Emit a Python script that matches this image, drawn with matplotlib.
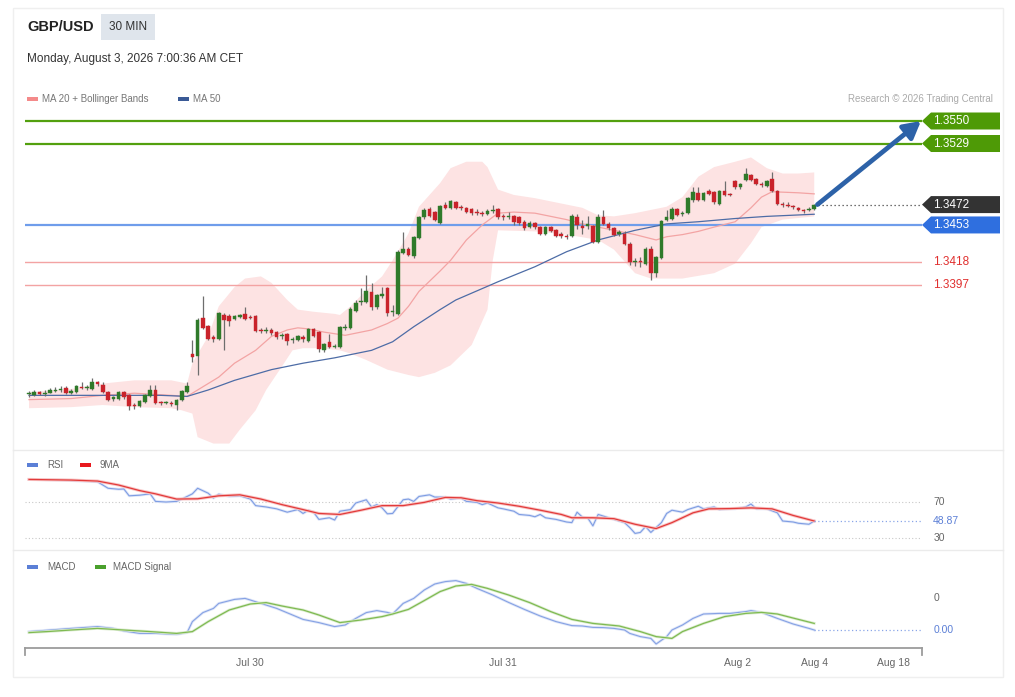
import numpy as np
import matplotlib
matplotlib.use("Agg")
import matplotlib.pyplot as plt
from matplotlib.patches import Rectangle, Polygon
from matplotlib.lines import Line2D
from matplotlib.transforms import IdentityTransform

plt.rcParams['font.family'] = ['Liberation Sans', 'DejaVu Sans']

W, H = 1015, 697

# --- 30分足ローソク (GBP/USD) ---
opens = [1.3295, 1.3294, 1.3297, 1.3295, 1.3296, 1.3298, 1.3299, 1.3301, 1.3296, 1.3297,
         1.3302, 1.3301, 1.3300, 1.3306, 1.3304, 1.3297, 1.3291, 1.3291, 1.3297, 1.3294,
         1.3285, 1.3284, 1.3288, 1.3293, 1.3299, 1.3288, 1.3287, 1.3287, 1.3285, 1.3290,
         1.3297, 1.3333, 1.3331, 1.3366, 1.3359, 1.3348, 1.3347, 1.3369, 1.3368, 1.3365,
         1.3367, 1.3370, 1.3367, 1.3368, 1.3355, 1.3354, 1.3355, 1.3353, 1.3349, 1.3351,
         1.3346, 1.3346, 1.3348, 1.3345, 1.3356, 1.3353, 1.3336, 1.3344, 1.3339, 1.3339,
         1.3357, 1.3357, 1.3373, 1.3381, 1.3381, 1.3390, 1.3376, 1.3387, 1.3394, 1.3372,
         1.3370, 1.3427, 1.3431, 1.3424, 1.3441, 1.3460, 1.3468, 1.3465, 1.3455, 1.3472,
         1.3469, 1.3474, 1.3470, 1.3469, 1.3468, 1.3465, 1.3464, 1.3463, 1.3466, 1.3468,
         1.3461, 1.3460, 1.3461, 1.3460, 1.3456, 1.3451, 1.3455, 1.3451, 1.3445, 1.3451,
         1.3448, 1.3445, 1.3443, 1.3443, 1.3460, 1.3452, 1.3452, 1.3452, 1.3437, 1.3460,
         1.3454, 1.3450, 1.3445, 1.3445, 1.3435, 1.3418, 1.3419, 1.3417, 1.3431, 1.3408,
         1.3422, 1.3458, 1.3459, 1.3468, 1.3463, 1.3464, 1.3476, 1.3483, 1.3476, 1.3485,
         1.3484, 1.3473, 1.3485, 1.3482, 1.3494, 1.3488, 1.3495, 1.3500, 1.3496, 1.3491,
         1.3489, 1.3496, 1.3485, 1.3473, 1.3472, 1.3471, 1.3469, 1.3467, 1.3467, 1.3468]
highs = [1.3298, 1.3299, 1.3298, 1.3299, 1.3301, 1.3302, 1.3303, 1.3303, 1.3300, 1.3304,
         1.3306, 1.3304, 1.3310, 1.3307, 1.3306, 1.3298, 1.3293, 1.3298, 1.3298, 1.3295,
         1.3287, 1.3290, 1.3295, 1.3304, 1.3304, 1.3289, 1.3289, 1.3289, 1.3291, 1.3299,
         1.3306, 1.3346, 1.3366, 1.3387, 1.3360, 1.3350, 1.3372, 1.3371, 1.3370, 1.3369,
         1.3370, 1.3376, 1.3369, 1.3369, 1.3357, 1.3358, 1.3357, 1.3354, 1.3352, 1.3352,
         1.3348, 1.3350, 1.3350, 1.3357, 1.3357, 1.3354, 1.3343, 1.3351, 1.3342, 1.3359,
         1.3361, 1.3376, 1.3383, 1.3394, 1.3406, 1.3399, 1.3389, 1.3395, 1.3395, 1.3378,
         1.3430, 1.3446, 1.3432, 1.3443, 1.3461, 1.3469, 1.3470, 1.3466, 1.3472, 1.3474,
         1.3476, 1.3475, 1.3472, 1.3470, 1.3469, 1.3468, 1.3466, 1.3468, 1.3472, 1.3469,
         1.3463, 1.3465, 1.3462, 1.3461, 1.3458, 1.3457, 1.3456, 1.3452, 1.3452, 1.3452,
         1.3449, 1.3446, 1.3445, 1.3463, 1.3463, 1.3458, 1.3461, 1.3453, 1.3463, 1.3467,
         1.3456, 1.3451, 1.3448, 1.3447, 1.3437, 1.3422, 1.3423, 1.3432, 1.3433, 1.3424,
         1.3458, 1.3467, 1.3470, 1.3469, 1.3466, 1.3479, 1.3488, 1.3488, 1.3484, 1.3487,
         1.3485, 1.3486, 1.3494, 1.3483, 1.3495, 1.3492, 1.3506, 1.3501, 1.3497, 1.3493,
         1.3495, 1.3502, 1.3486, 1.3474, 1.3474, 1.3472, 1.3470, 1.3468, 1.3470, 1.3473]
lows = [1.3292, 1.3293, 1.3294, 1.3293, 1.3296, 1.3297, 1.3297, 1.3295, 1.3295, 1.3296,
        1.3300, 1.3299, 1.3299, 1.3303, 1.3296, 1.3289, 1.3289, 1.3290, 1.3291, 1.3280,
        1.3281, 1.3283, 1.3287, 1.3292, 1.3286, 1.3285, 1.3286, 1.3284, 1.3280, 1.3289,
        1.3296, 1.3325, 1.3313, 1.3356, 1.3346, 1.3344, 1.3346, 1.3336, 1.3359, 1.3364,
        1.3366, 1.3364, 1.3365, 1.3353, 1.3352, 1.3352, 1.3350, 1.3347, 1.3347, 1.3341,
        1.3343, 1.3345, 1.3344, 1.3344, 1.3348, 1.3334, 1.3334, 1.3338, 1.3338, 1.3338,
        1.3355, 1.3356, 1.3372, 1.3378, 1.3380, 1.3374, 1.3375, 1.3385, 1.3368, 1.3368,
        1.3369, 1.3426, 1.3424, 1.3422, 1.3440, 1.3459, 1.3460, 1.3457, 1.3454, 1.3468,
        1.3468, 1.3468, 1.3467, 1.3464, 1.3462, 1.3462, 1.3461, 1.3462, 1.3464, 1.3459,
        1.3458, 1.3459, 1.3453, 1.3453, 1.3448, 1.3450, 1.3449, 1.3444, 1.3444, 1.3446,
        1.3442, 1.3441, 1.3440, 1.3442, 1.3449, 1.3445, 1.3449, 1.3436, 1.3436, 1.3453,
        1.3448, 1.3443, 1.3443, 1.3434, 1.3416, 1.3415, 1.3414, 1.3416, 1.3402, 1.3404,
        1.3421, 1.3457, 1.3458, 1.3461, 1.3461, 1.3463, 1.3474, 1.3475, 1.3475, 1.3481,
        1.3473, 1.3472, 1.3480, 1.3480, 1.3487, 1.3487, 1.3494, 1.3494, 1.3490, 1.3488,
        1.3488, 1.3484, 1.3472, 1.3470, 1.3470, 1.3468, 1.3466, 1.3464, 1.3466, 1.3467]
closes = [1.3296, 1.3297, 1.3295, 1.3296, 1.3299, 1.3299, 1.3300, 1.3296, 1.3298, 1.3303,
          1.3301, 1.3302, 1.3306, 1.3305, 1.3297, 1.3290, 1.3292, 1.3297, 1.3292, 1.3284,
          1.3284, 1.3289, 1.3294, 1.3299, 1.3287, 1.3287, 1.3288, 1.3286, 1.3290, 1.3298,
          1.3303, 1.3330, 1.3364, 1.3357, 1.3347, 1.3347, 1.3371, 1.3364, 1.3363, 1.3368,
          1.3369, 1.3365, 1.3366, 1.3354, 1.3354, 1.3355, 1.3352, 1.3348, 1.3350, 1.3345,
          1.3347, 1.3349, 1.3347, 1.3356, 1.3349, 1.3337, 1.3342, 1.3339, 1.3340, 1.3358,
          1.3358, 1.3375, 1.3380, 1.3382, 1.3391, 1.3376, 1.3388, 1.3389, 1.3371, 1.3373,
          1.3428, 1.3431, 1.3425, 1.3442, 1.3460, 1.3467, 1.3461, 1.3458, 1.3471, 1.3469,
          1.3475, 1.3469, 1.3469, 1.3465, 1.3464, 1.3464, 1.3463, 1.3466, 1.3467, 1.3460,
          1.3460, 1.3461, 1.3456, 1.3455, 1.3450, 1.3455, 1.3451, 1.3445, 1.3451, 1.3447,
          1.3443, 1.3443, 1.3442, 1.3461, 1.3453, 1.3450, 1.3454, 1.3437, 1.3460, 1.3454,
          1.3450, 1.3444, 1.3446, 1.3435, 1.3418, 1.3419, 1.3418, 1.3431, 1.3408, 1.3423,
          1.3457, 1.3460, 1.3468, 1.3462, 1.3464, 1.3478, 1.3484, 1.3476, 1.3483, 1.3482,
          1.3474, 1.3485, 1.3481, 1.3481, 1.3488, 1.3491, 1.3501, 1.3495, 1.3491, 1.3490,
          1.3494, 1.3485, 1.3473, 1.3472, 1.3471, 1.3470, 1.3467, 1.3466, 1.3468, 1.3472]

# ボリンジャーバンド / 移動平均 (足番号, 値)
up_idx = [1, 9, 15, 21, 28, 31, 32, 35, 37, 40, 42, 45, 47, 50, 52, 55, 59, 60, 62, 65,
          68, 70, 73, 75, 79, 81, 84, 87, 88, 90, 93, 97, 100, 103, 106, 109, 112, 116, 119, 122,
          125, 128, 131, 135, 138, 141, 144, 147, 150]
up_val = [1.3297, 1.3300, 1.3305, 1.3308, 1.3308, 1.3305, 1.3324, 1.3349, 1.3377, 1.3395,
          1.3403, 1.3405, 1.3399, 1.3383, 1.3374, 1.3372, 1.3370, 1.3369, 1.3377, 1.3392,
          1.3405, 1.3420, 1.3445, 1.3470, 1.3492, 1.3506, 1.3512, 1.3512, 1.3507, 1.3486,
          1.3481, 1.3478, 1.3475, 1.3472, 1.3469, 1.3462, 1.3461, 1.3464, 1.3467, 1.3470,
          1.3479, 1.3498, 1.3507, 1.3512, 1.3516, 1.3506, 1.3501, 1.3501, 1.3502]
lo_idx = [1, 9, 15, 21, 28, 30, 32, 33, 36, 39, 41, 44, 46, 49, 51, 53, 56, 60, 62, 65,
          69, 73, 75, 78, 81, 85, 88, 89, 90, 97, 103, 109, 112, 116, 119, 125, 131, 135, 138, 140,
          144, 150]
lo_val = [1.3282, 1.3283, 1.3285, 1.3283, 1.3282, 1.3280, 1.3277, 1.3255, 1.3249, 1.3249,
          1.3262, 1.3280, 1.3299, 1.3321, 1.3336, 1.3338, 1.3338, 1.3336, 1.3333, 1.3327,
          1.3318, 1.3313, 1.3311, 1.3315, 1.3322, 1.3341, 1.3374, 1.3420, 1.3448, 1.3447,
          1.3444, 1.3439, 1.3430, 1.3408, 1.3403, 1.3403, 1.3408, 1.3417, 1.3436, 1.3451,
          1.3458, 1.3461]
ma20_idx = [1, 9, 15, 21, 28, 31, 33, 37, 40, 44, 47, 50, 52, 54, 57, 61, 62, 66, 69, 71,
            73, 75, 79, 81, 84, 87, 90, 93, 97, 100, 103, 106, 109, 112, 116, 120, 122, 125, 128, 131,
            135, 138, 140, 142, 147, 150]
ma20_val = [1.3290, 1.3291, 1.3294, 1.3296, 1.3294, 1.3293, 1.3299, 1.3311, 1.3324, 1.3336,
            1.3349, 1.3355, 1.3357, 1.3356, 1.3353, 1.3350, 1.3351, 1.3355, 1.3361, 1.3366,
            1.3377, 1.3391, 1.3410, 1.3420, 1.3439, 1.3453, 1.3464, 1.3465, 1.3464, 1.3461,
            1.3458, 1.3454, 1.3451, 1.3448, 1.3444, 1.3439, 1.3442, 1.3444, 1.3447, 1.3451,
            1.3456, 1.3469, 1.3479, 1.3484, 1.3483, 1.3482]
ma50_idx = [1, 15, 26, 31, 35, 40, 47, 53, 59, 66, 70, 74, 79, 82, 90, 97, 103, 109, 116, 122,
            128, 135, 141, 150]
ma50_val = [1.3294, 1.3294, 1.3294, 1.3293, 1.3299, 1.3308, 1.3318, 1.3324, 1.3329, 1.3336,
            1.3344, 1.3358, 1.3374, 1.3383, 1.3400, 1.3414, 1.3428, 1.3439, 1.3448, 1.3454,
            1.3456, 1.3459, 1.3461, 1.3463]

# 価格レベル
levels = [1.3550, 1.3529, 1.3472, 1.3453, 1.3418, 1.3397]
level_kind = ['res', 'res', 'last', 'pivot', 'sup', 'sup']

# RSI と 9MA
rsi_idx = [1, 7, 11, 14, 16, 18, 19, 20, 22, 24, 25, 27, 29, 30, 32, 33, 35, 36, 37, 39,
           41, 43, 44, 46, 48, 50, 52, 53, 54, 55, 56, 58, 59, 60, 62, 63, 65, 66, 67, 68,
           69, 70, 72, 73, 74, 75, 77, 78, 80, 81, 83, 84, 86, 87, 88, 90, 91, 93, 94, 96,
           97, 98, 99, 101, 103, 104, 105, 106, 107, 108, 109, 111, 112, 114, 115, 116, 117, 118, 119, 121,
           122, 123, 125, 126, 128, 129, 131, 132, 134, 135, 137, 138, 139, 141, 143, 144, 146, 147, 149, 150]
rsi_val = [95.1, 94.4, 93.3, 92.5, 85.3, 84.2, 84.5, 76.9, 77.6, 79.1, 70.7, 70.0, 70.7, 73.3, 79.1,
           85.3, 79.8, 74.4, 78.7, 76.2, 76.9, 73.3, 66.0, 64.5, 62.4, 58.7, 61.6, 57.3, 60.9, 58.7,
           50.7, 52.5, 50.0, 59.8, 61.6, 68.9, 72.5, 64.5, 67.1, 63.5, 56.9, 57.3, 72.5, 73.3, 70.7,
           76.2, 78.0, 75.5, 75.5, 73.3, 74.4, 70.7, 69.6, 67.1, 68.9, 63.5, 62.4, 59.8, 56.2, 55.1,
           53.6, 56.2, 52.5, 50.7, 47.8, 47.1, 58.7, 53.3, 52.5, 43.5, 56.2, 52.5, 50.7, 47.1, 41.6,
           35.1, 36.2, 42.7, 36.2, 47.1, 57.3, 60.9, 58.7, 61.6, 65.3, 62.4, 64.5, 61.6, 62.4, 62.4,
           64.5, 67.8, 62.4, 62.4, 58.0, 48.9, 47.8, 46.4, 45.3, 48.87]
ma9_idx = [1, 9, 14, 18, 22, 25, 29, 33, 37, 41, 45, 49, 53, 56, 60, 64, 68, 72, 76, 80,
           83, 86, 90, 94, 98, 102, 104, 108, 112, 116, 120, 123, 127, 130, 134, 138, 142, 146, 150]
ma9_val = [95.1, 94.4, 93.3, 88.9, 82.7, 79.1, 73.3, 73.6, 76.9, 78.0, 73.3, 67.1, 61.6, 57.3,
           56.2, 60.9, 66.0, 66.0, 69.6, 75.1, 74.7, 71.5, 68.9, 65.3, 60.9, 56.2, 52.5, 52.5,
           51.5, 45.3, 40.5, 47.1, 58.0, 62.4, 62.7, 63.5, 62.4, 55.1, 48.9]

# MACD とシグナル
macd_idx = [1, 5, 9, 14, 17, 19, 22, 25, 29, 31, 32, 34, 36, 37, 40, 42, 43, 45, 48, 51,
            53, 56, 59, 61, 63, 65, 67, 69, 70, 72, 74, 76, 78, 80, 82, 84, 86, 89, 92, 95,
            98, 101, 104, 106, 108, 110, 112, 114, 115, 117, 119, 120, 122, 123, 125, 127, 129, 132, 134, 137,
            138, 140, 143, 146, 149, 150]
macd_val = [-0.00168, -0.00160, -0.00152, -0.00143, -0.00152, -0.00165, -0.00177, -0.00177, -0.00182, -0.00173,
            -0.00118, -0.00073, -0.00052, -0.00027, -0.00007, -0.00002, -0.00010, -0.00027, -0.00052, -0.00085,
            -0.00107, -0.00123, -0.00143, -0.00135, -0.00102, -0.00073, -0.00063, -0.00072, -0.00080, -0.00027,
            -0.00002, 0.00040, 0.00070, 0.00082, 0.00087, 0.00073, 0.00048, 0.00015, -0.00022, -0.00057,
            -0.00090, -0.00118, -0.00138, -0.00140, -0.00147, -0.00148, -0.00152, -0.00160, -0.00177, -0.00193,
            -0.00202, -0.00230, -0.00193, -0.00160, -0.00135, -0.00102, -0.00080, -0.00077, -0.00077, -0.00068,
            -0.00063, -0.00072, -0.00102, -0.00130, -0.00152, -0.00160]
sig_idx = [1, 5, 9, 14, 19, 24, 29, 32, 35, 39, 43, 46, 49, 53, 56, 60, 64, 68, 70, 73,
           76, 79, 82, 85, 88, 92, 96, 100, 104, 108, 113, 117, 120, 123, 125, 129, 133, 137, 140, 143,
           147, 150]
sig_val = [-0.00173, -0.00167, -0.00160, -0.00152, -0.00160, -0.00168, -0.00177, -0.00168, -0.00118, -0.00060,
           -0.00030, -0.00023, -0.00040, -0.00060, -0.00085, -0.00123, -0.00110, -0.00093, -0.00080, -0.00057,
           -0.00013, 0.00032, 0.00060, 0.00068, 0.00048, 0.00015, -0.00023, -0.00068, -0.00107, -0.00127,
           -0.00140, -0.00168, -0.00193, -0.00202, -0.00168, -0.00127, -0.00093, -0.00077, -0.00072, -0.00080,
           -0.00107, -0.00127]

tick_pos = [43, 91, 135.5, 150, 165]
tick_labels = ['Jul 30', 'Jul 31', 'Aug 2', 'Aug 4', 'Aug 18']

GREEN = '#2f7a2a'
RED = '#c9232b'
XMIN, XMAX = 0.24, 170.45


def box(l, t, r, b):
    return [l / W, 1 - b / H, (r - l) / W, (b - t) / H]


def fxy(x, y):
    return x / W, 1 - y / H


def clean(a):
    for s in a.spines.values():
        s.set_visible(False)
    a.set_xticks([])
    a.set_yticks([])
    a.set_xlim(XMIN, XMAX)
    a.patch.set_alpha(0)


def legend_key(x, y, color):
    fig.add_artist(Rectangle(fxy(x, y + 2), 11 / W, 4 / H, transform=fig.transFigure,
                             fc=color, ec='none'))


fig = plt.figure(figsize=(W / 100, H / 100), dpi=100)
fig.patch.set_facecolor('white')

# カード枠
fig.add_artist(Rectangle(fxy(13, 677), 990 / W, 669 / H, transform=fig.transFigure,
                         fc='none', ec='#efefef', lw=1))
for yy in (450, 550):
    fig.add_artist(Line2D([13 / W, 1003 / W], [1 - yy / H] * 2, color='#ebebeb', lw=1))

# ヘッダー
fig.text(*fxy(27, 27), 'GBP/USD', fontsize=10.5, fontweight='bold', color='#222222', va='center')
fig.add_artist(Rectangle(fxy(101, 40), 54 / W, 26 / H, transform=fig.transFigure,
                         fc='#dfe5ec', ec='none'))
fig.text(*fxy(128, 27), '30 MIN', fontsize=8.5, color='#333333', va='center', ha='center')
fig.text(*fxy(27, 59), 'Monday, August 3, 2026 7:00:36 AM CET', fontsize=8.5,
         color='#333333', va='center')

legend_key(27, 99, '#f48a8a')
fig.text(*fxy(42, 99), 'MA 20 + Bollinger Bands', fontsize=7, color='#777777', va='center')
legend_key(178, 99, '#3a5a96')
fig.text(*fxy(193, 99), 'MA 50', fontsize=7, color='#777777', va='center')
fig.text(*fxy(993, 99), 'Research © 2026 Trading Central', fontsize=7, color='#aaaaaa',
         va='center', ha='right')

legend_key(27, 465, '#5b7fd6')
fig.text(*fxy(47, 465), 'RSI', fontsize=7, color='#666666', va='center')
legend_key(80, 465, '#e8191e')
fig.text(*fxy(99, 465), '9MA', fontsize=7, color='#666666', va='center')
legend_key(27, 567, '#5b7fd6')
fig.text(*fxy(47, 567), 'MACD', fontsize=7, color='#666666', va='center')
legend_key(95, 567, '#4aa02c')
fig.text(*fxy(113, 567), 'MACD Signal', fontsize=7, color='#666666', va='center')

# --- メインチャート ---
ax = fig.add_axes(box(25, 112, 922, 447))
clean(ax)
ax.set_ylim(1.32458, 1.35584)

idx = np.arange(1, len(closes) + 1)
o = np.array(opens)
hi = np.array(highs)
lo = np.array(lows)
c = np.array(closes)
colors = np.where(c >= o, GREEN, RED)

ax.fill(np.r_[up_idx, lo_idx[::-1]], np.r_[up_val, lo_val[::-1]], color='#fde3e3', lw=0, zorder=1)

for lvl, kind in zip(levels, level_kind):
    if kind == 'res':
        ax.axhline(lvl, color='#53a00e', lw=1.6, zorder=2)
    elif kind == 'pivot':
        ax.axhline(lvl, color='#6f9deb', lw=1.6, zorder=2)
    elif kind == 'sup':
        ax.axhline(lvl, color='#f3a3a3', lw=1.0, zorder=2)
    else:
        ax.hlines(lvl, idx[-1] + 0.8, XMAX, colors='#444444', linestyles=(0, (1, 2.2)), lw=0.9, zorder=2)

ax.plot(ma20_idx, ma20_val, color='#f3a4a4', lw=0.9, zorder=3)
ax.plot(ma50_idx, ma50_val, color='#4d6ca6', lw=0.9, zorder=3)

ax.vlines(idx, lo, hi, color='#6e6e6e', lw=0.9, zorder=4)
ax.bar(idx, np.maximum(np.abs(c - o), 0.00008), bottom=np.minimum(o, c), width=0.68,
       color=colors, edgecolor=colors, lw=0.3, zorder=5)

ax.annotate('', xy=(XMAX - 0.2, levels[0]), xytext=(idx[-1] + 0.6, closes[-1]),
            arrowprops=dict(arrowstyle='-|>,head_length=1.0,head_width=0.55', color='#2d62a8',
                            lw=3.4, shrinkA=0, shrinkB=0),
            annotation_clip=False, zorder=6)

# 右側のラベル
tag_colors = {'res': '#4e9a06', 'last': '#333333', 'pivot': '#2f6fdf'}
xd0 = ax.transAxes.transform((1, 0))[0]
for lvl, kind in zip(levels, level_kind):
    yd = ax.transData.transform((1, lvl))[1]
    if kind == 'sup':
        fig.text(xd0 + 11, yd, f'{lvl:.4f}', transform=IdentityTransform(), color='#e0302f',
                 fontsize=8.5, va='center')
        continue
    fig.add_artist(Polygon([(xd0, yd), (xd0 + 9, yd + 8.5), (xd0 + 78, yd + 8.5),
                            (xd0 + 78, yd - 8.5), (xd0 + 9, yd - 8.5)], closed=True,
                           transform=IdentityTransform(), fc=tag_colors[kind], ec='none'))
    fig.text(xd0 + 11, yd, f'{lvl:.4f}', transform=IdentityTransform(), color='white',
             fontsize=8.5, va='center')

# --- RSI ---
ax_rsi = fig.add_axes(box(25, 452, 922, 548))
clean(ax_rsi)
ax_rsi.set_ylim(18.9, 125.6)
for g in (70, 30):
    ax_rsi.hlines(g, XMIN, XMAX, colors='#c8c8c8', linestyles=(0, (1, 2)), lw=0.8)
    ax_rsi.text(1.0125, g, str(g), transform=ax_rsi.get_yaxis_transform(), fontsize=7.5,
                color='#666666', va='center')
ax_rsi.plot(rsi_idx, rsi_val, color='#dfe6f8', lw=2.0)
ax_rsi.plot(rsi_idx, rsi_val, color='#7e9de3', lw=0.8)
ax_rsi.plot(ma9_idx, ma9_val, color='#f8c4c4', lw=2.2)
ax_rsi.plot(ma9_idx, ma9_val, color='#e23a3a', lw=0.9)
ax_rsi.hlines(rsi_val[-1], rsi_idx[-1], XMAX, colors='#8aa6e8', linestyles=(0, (1, 2)), lw=0.9)
ax_rsi.text(1.0125, rsi_val[-1], f'{rsi_val[-1]:.2f}', transform=ax_rsi.get_yaxis_transform(),
            fontsize=7.5, color='#5b7fd6', va='center')

# --- MACD ---
ax_macd = fig.add_axes(box(25, 552, 922, 648))
clean(ax_macd)
ax_macd.set_ylim(-0.0025, 0.0023)
ax_macd.plot(macd_idx, macd_val, color='#dfe6f8', lw=2.0)
ax_macd.plot(macd_idx, macd_val, color='#86a2e4', lw=0.8)
ax_macd.plot(sig_idx, sig_val, color='#dcecd0', lw=2.0)
ax_macd.plot(sig_idx, sig_val, color='#7fba52', lw=0.9)
ax_macd.hlines(macd_val[-1], macd_idx[-1], XMAX, colors='#8aa6e8', linestyles=(0, (1, 2)), lw=0.9)
ax_macd.text(1.0125, 0, '0', transform=ax_macd.get_yaxis_transform(), fontsize=7.5,
             color='#666666', va='center')
ax_macd.text(1.0125, macd_val[-1], '0.00', transform=ax_macd.get_yaxis_transform(),
             fontsize=7.5, color='#5b7fd6', va='center')

# 時間軸
ax_macd.spines['bottom'].set_visible(True)
ax_macd.spines['bottom'].set_color('#9c9c9c')
ax_macd.spines['bottom'].set_linewidth(1.3)
ax_macd.set_xticks(tick_pos)
ax_macd.set_xticklabels(tick_labels)
ax_macd.tick_params(axis='x', length=0, pad=7, labelsize=7.5, labelcolor='#666666')
for xe in (XMIN, XMAX):
    ax_macd.plot([xe, xe], [0, -0.07], transform=ax_macd.get_xaxis_transform(),
                 color='#9c9c9c', lw=1.3, clip_on=False)

fig.savefig('out.png', dpi=100)
